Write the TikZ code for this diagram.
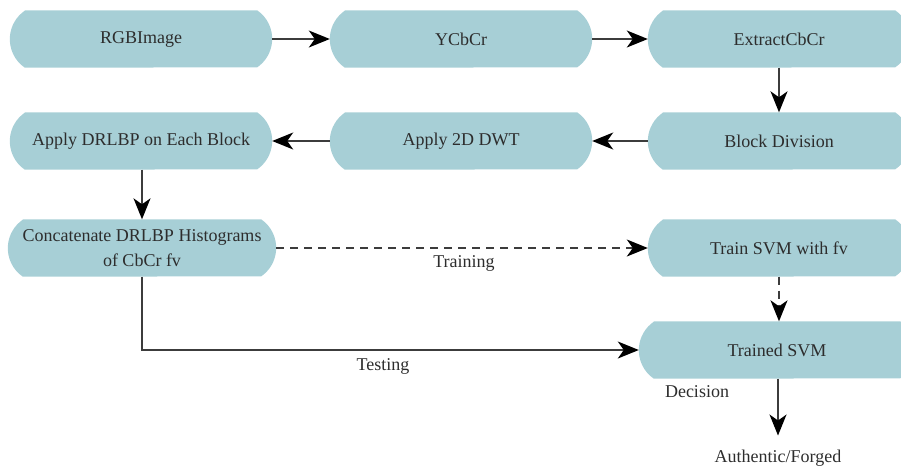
\documentclass[tikz,border=0pt]{standalone}
\usepackage{fontspec}
\setmainfont{Liberation Serif}
\usetikzlibrary{arrows.meta,backgrounds}
\definecolor{boxfill}{RGB}{167,207,214}
\definecolor{txt}{RGB}{45,45,45}
\definecolor{ln}{RGB}{60,60,60}
\newcommand\bulgebox[1]{\fill[boxfill] ([xshift=15pt]#1.north west) -- ([xshift=-15pt]#1.north east) arc[start angle=55.5, end angle=-55.5, radius=34.6pt] -- ([xshift=15pt]#1.south west) arc[start angle=235.5, end angle=124.5, radius=34.6pt] -- cycle;}
\begin{document}
\begin{tikzpicture}[x=1pt,y=1pt,
  box/.style={rectangle, inner sep=0pt, minimum height=57pt, text=txt, font=\fontsize{18}{25}\selectfont, align=center},
  lbl/.style={inner sep=0pt, text=txt, font=\fontsize{18}{22}\selectfont},
  conn/.style={draw=ln, line width=1.5pt, -{Stealth[length=21pt,width=17pt,inset=6pt,color=black]}},
  dsh/.style={conn, dash pattern=on 8pt off 6pt}]
\useasboundingbox (0,0) rectangle (901,-467);
\clip (0,0) rectangle (901,-467);
\node[box,minimum width=262pt] (rgb) at (141,-39) {RGBImage};
\node[box,minimum width=262pt] (ycc) at (461,-39) {YCbCr};
\node[box,minimum width=262pt] (ext) at (779,-39) {ExtractCbCr};
\node[box,minimum width=262pt] (blk) at (779,-141) {Block Division};
\node[box,minimum width=262pt] (dwt) at (461,-141) {Apply 2D DWT};
\node[box,minimum width=262pt] (drl) at (141,-141) {Apply DRLBP on Each Block};
\node[box,minimum width=268pt] (cat) at (142,-248) {Concatenate DRLBP Histograms\\of CbCr fv};
\node[box,minimum width=262pt] (trn) at (779,-248) {Train SVM with fv};
\node[box,minimum width=276pt] (svm) at (777,-350) {Trained SVM};
\node[lbl,anchor=base,outer ysep=14pt] (out) at (778,-462) {Authentic/Forged};
\node[lbl,anchor=base] (ltrain) at (464,-267) {Training};
\node[lbl,anchor=base] (ltest) at (383,-370) {Testing};
\node[lbl,anchor=base] (ldec) at (697,-397) {Decision};
\begin{pgfonlayer}{background}
\clip (0,0) rectangle (901,-467);
\foreach \n in {rgb,ycc,ext,blk,dwt,drl,cat,trn,svm} {\bulgebox{\n}}
\end{pgfonlayer}
\draw[conn] (rgb.east) -- (ycc.west);
\draw[conn] (ycc.east) -- (ext.west);
\draw[conn] (ext.south) -- (blk.north);
\draw[conn] (blk.west) -- (dwt.east);
\draw[conn] (dwt.west) -- (drl.east);
\draw[conn] (drl.south -| cat.north) -- (cat.north);
\draw[dsh] (cat.east) -- (trn.west);
\draw[dsh] (trn.south) -- (trn.south |- svm.north);
\draw[conn] (cat.south) |- (svm.west);
\draw[conn] (svm.south -| out.north) -- (out.north);
\end{tikzpicture}
\end{document}
